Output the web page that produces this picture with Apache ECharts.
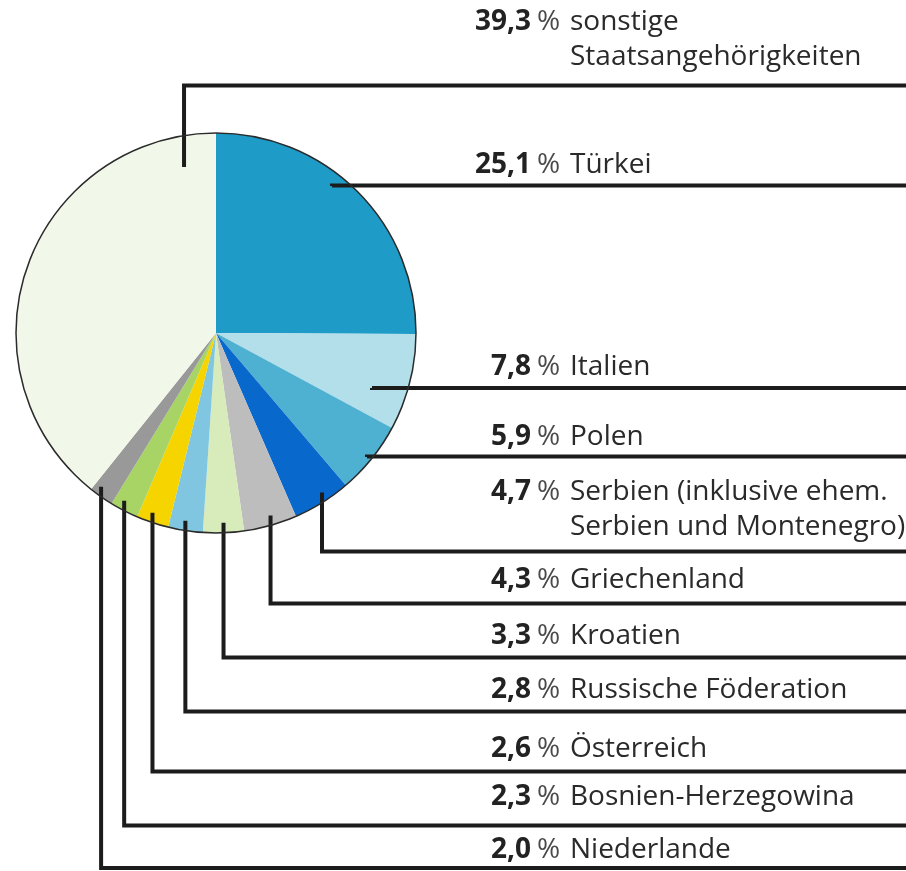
<!DOCTYPE html>
<html>
<head>
<meta charset="utf-8">
<script src="https://cdn.jsdelivr.net/npm/echarts@6/dist/echarts.min.js"></script>
<style>
  html, body { margin: 0; padding: 0; background: #ffffff; }
  #chart { width: 906px; height: 871px; }
</style>
</head>
<body>
<div id="chart"></div>
<script>
// ---- data ----
const CATEGORIES = [
  'Türkei',
  'Italien',
  'Polen',
  'Serbien (inklusive ehem.\nSerbien und Montenegro)',
  'Griechenland',
  'Kroatien',
  'Russische Föderation',
  'Österreich',
  'Bosnien-Herzegowina',
  'Niederlande',
  'sonstige\nStaatsangehörigkeiten'
];
const SHARES = [25.1, 7.8, 5.9, 4.7, 4.3, 3.3, 2.8, 2.6, 2.3, 2.0, 39.3];
const COLORS = ['#1e9bc6', '#b3dfeb', '#4fb1d2', '#0868cc', '#bdbdbd', '#d8ebbb',
                '#80c6e0', '#f5d400', '#a8d465', '#999999', '#f1f7e9'];

// ---- layout (positions, not data) ----
const CX = 216, CY = 333, RADIUS = 200;
const FONT_FAMILY = '"Open Sans", "Noto Sans", sans-serif';
const FONT_SIZE = 28, LINE_H = 35;
const VALUE_RIGHT = 531, NAME_LEFT = 570, PCT_GAP = 6;
const INSET = 10;
// leader line y, label (last line) centre y, optional anchor angle (deg from 12 o'clock) & radius fraction
const LEADERS = [
  { lineY: 185.5, textY: 165, anchor: { ang: 38.3, r: 0.936 } },
  { lineY: 388,   textY: 367, anchor: { ang: 109.4, r: 0.827 } },
  { lineY: 456.5, textY: 437, anchor: { ang: 129.4, r: 0.977 } },
  { lineY: 551.5, textY: 527 },
  { lineY: 603.5, textY: 580 },
  { lineY: 657.5, textY: 636 },
  { lineY: 711.5, textY: 690 },
  { lineY: 771.5, textY: 749 },
  { lineY: 825.5, textY: 797 },
  { lineY: 868,   textY: 850 },
  { lineY: 85.5,  textY: 57, anchor: { ang: 349.1, r: 0.845 } }
];

const fmt = v => v.toFixed(1).replace('.', ',');

const ctx = document.createElement('canvas').getContext('2d');
function tw(text, font) { ctx.font = font; return ctx.measureText(text).width; }
const boldFont = 'bold ' + FONT_SIZE + 'px ' + FONT_FAMILY;
const regFont = FONT_SIZE + 'px ' + FONT_FAMILY;

const valW = SHARES.map(v => tw(fmt(v), boldFont));
const maxValW = Math.max.apply(null, valW);
const LABEL_X = VALUE_RIGHT - maxValW;
const pctW = tw('%', regFont);

const total = SHARES.reduce((a, b) => a + b, 0);
const MID = [];
let cum = 0;
SHARES.forEach(v => { MID.push((cum + v / 2) / total * 360); cum += v; });

const rich = {
  p: { fontFamily: FONT_FAMILY, fontSize: FONT_SIZE, color: '#4a4a4a', lineHeight: LINE_H,
       padding: [0, NAME_LEFT - VALUE_RIGHT - PCT_GAP - pctW, 0, PCT_GAP] },
  n: { fontFamily: FONT_FAMILY, fontSize: FONT_SIZE, color: '#2a2a2a', lineHeight: LINE_H },
  m: { fontFamily: FONT_FAMILY, fontSize: FONT_SIZE, color: '#2a2a2a', lineHeight: LINE_H,
       padding: [0, 0, 0, NAME_LEFT - LABEL_X] }
};
SHARES.forEach((v, i) => {
  rich['v' + i] = { fontFamily: FONT_FAMILY, fontSize: FONT_SIZE, fontWeight: 'bold', color: '#222222',
                    lineHeight: LINE_H, padding: [0, 0, 0, maxValW - valW[i]] };
});

const chart = echarts.init(document.getElementById('chart'), null, { renderer: 'canvas' });

chart.setOption({
  backgroundColor: '#ffffff',
  animation: false,
  graphic: [{
    type: 'circle', silent: true, z: 100,
    shape: { cx: CX, cy: CY, r: RADIUS },
    style: { fill: null, stroke: '#2b2b2b', lineWidth: 1.5 }
  }],
  series: [{
    type: 'pie',
    center: [CX, CY],
    radius: [0, RADIUS],
    startAngle: 90,
    clockwise: true,
    avoidLabelOverlap: false,
    silent: true,
    itemStyle: { borderWidth: 0 },
    data: CATEGORIES.map((name, i) => ({
      name: name, value: SHARES[i], itemStyle: { color: COLORS[i] }
    })),
    label: {
      show: true,
      position: 'outside',
      rich: rich,
      formatter: function (p) {
        const i = p.dataIndex;
        const lines = CATEGORIES[i].split('\n');
        let s = '{v' + i + '|' + fmt(SHARES[i]) + '}{p|%}{n|' + lines[0] + '}';
        for (let k = 1; k < lines.length; k++) s += '\n{m|' + lines[k] + '}';
        return s;
      }
    },
    labelLine: {
      show: true, showAbove: true, length: 10, length2: 10, smooth: false,
      lineStyle: { color: '#1c1c1c', width: 4 }
    },
    labelLayout: function (p) {
      const i = p.dataIndex;
      const L = LEADERS[i];
      let ang, r;
      if (L.anchor) { ang = L.anchor.ang; r = L.anchor.r * RADIUS; }
      else { ang = MID[i]; r = RADIUS; }
      const rad = ang * Math.PI / 180;
      const ax = CX + r * Math.sin(rad);
      let ay = CY - r * Math.cos(rad);
      if (!L.anchor) ay -= INSET;
      return {
        x: LABEL_X,
        y: L.textY + LINE_H / 2,
        align: 'left',
        verticalAlign: 'bottom',
        labelLinePoints: [[ax, ay], [ax, L.lineY], [chart.getWidth() + 4, L.lineY]]
      };
    }
  }]
});

// make sure the leader lines are painted above the pie sectors
(function raiseLeaders() {
  const zr = chart.getZr();
  const list = zr.storage.getDisplayList(true);
  list.forEach(function (el) {
    if (el.type === 'polyline') { el.z2 = 1000; el.markRedraw(); }
  });
  zr.refreshImmediately();
})();
</script>
</body>
</html>
